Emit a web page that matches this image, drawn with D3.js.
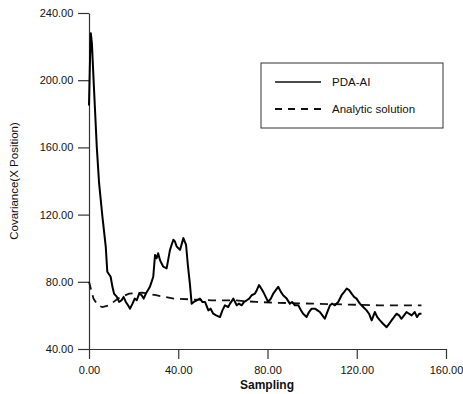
<!DOCTYPE html>
<html>
<head>
<meta charset="utf-8">
<script src="https://cdn.jsdelivr.net/npm/d3@7"></script>
<style>
  html, body { margin: 0; padding: 0; background: #fff; }
  svg { display: block; font-family: "Liberation Sans", Arial, sans-serif; }
</style>
</head>
<body>
<svg width="463" height="394"></svg>
<script>
// PDA-AI (solid) : sampling position / covariance
const pdaX = [0, 0.5, 0.8, 1.3, 2.2, 3.5, 4.5, 6, 7.5, 8.2, 9.7, 10.5, 11.2, 12.5, 13.5, 14.6, 15.5, 16.5, 17.5, 18.4, 19.5,
  20.5, 21.4, 22.5, 23.6, 24.5, 25.5, 27.3, 28.8, 29.6, 30.3, 31, 31.8, 32.5, 33.3, 34.8, 36.3, 37.8, 38.5, 39.3, 40.8,
  42.3, 43.5, 44.3, 45.2, 46, 47, 48.3, 49.7, 50.8, 52, 53.5, 54.5, 55.7, 57, 58.7, 59.8, 60.9, 62.4, 63.2, 64.7,
  66.2, 67.2, 68.4, 69.5, 70.7, 71.8, 72.9, 74.4, 75.2, 76.2, 77.2, 78.1, 79.2, 80.3, 81.5, 82.6, 83.7, 84.8, 86, 87,
  88.6, 90, 91, 92.3, 93.8, 95, 96, 97.5, 98.6, 99.8, 101.3, 102.4, 103.5, 104.6, 105.7, 106.8, 108, 109, 110.2, 111.7,
  113.2, 114.4, 115.5, 116.6, 117.7, 118.8, 119.9, 121.4, 122.9, 124.4, 125.5, 126.7, 128.1, 129.2, 130.4, 131.8, 133.4, 134.5, 135.6, 136.7,
  137.8, 139, 140, 141.2, 142.3, 143.4, 144.6, 146, 147, 148, 149]
const pdaY = [185, 215, 228, 222, 196, 160, 139, 119, 101, 86, 83, 77, 73, 71, 68, 69, 71, 68, 66, 64, 67,
  70, 69, 73, 72, 70, 73, 77, 83, 96, 94, 97, 93, 91, 89, 88, 99, 105, 104, 101, 99,
  106, 102, 90, 79, 67, 68, 69, 70, 68, 68, 63, 64, 61, 60, 59, 63, 66, 65, 67, 70,
  66, 67, 66, 68, 69, 70, 72, 73, 75, 78, 76, 74, 71, 68, 70, 73, 75, 77, 74, 72,
  70, 67, 68, 66, 66, 63, 61, 59, 62, 64, 64, 63, 62, 60, 58, 62, 66, 67, 66, 68,
  72, 74, 76, 75, 73, 71, 70, 67, 65, 63, 61, 57, 62, 59, 57, 55, 53, 55, 57, 59,
  61, 60, 58, 60, 62, 61, 60, 62, 59, 61, 61]

// Analytic solution (dashed)
const anaX = [0, 1, 2, 4, 6, 9, 13, 18, 24, 30, 38, 46, 55, 65, 75, 85, 100, 115, 130, 149]
const anaY = [80, 75, 70, 66, 65, 66, 70, 73, 73.5, 72, 70, 69.5, 69, 69, 68, 67.5, 67, 66.5, 66, 66]

const xTicks = [0, 40, 80, 120, 160]
const yTicks = [40, 80, 120, 160, 200, 240]
const seriesNames = ["PDA-AI", "Analytic solution"]

const svg = d3.select("svg")
const x = d3.scaleLinear().domain([0, 160]).range([89, 446])
const y = d3.scaleLinear().domain([40, 240]).range([349, 13])

// axes
const xAxis = d3.axisBottom(x).tickValues(xTicks).tickFormat(d3.format(".2f")).tickSize(10).tickSizeOuter(0)
const xMinor = d3.axisBottom(x).tickValues([20, 60, 100, 140]).tickFormat("").tickSize(4).tickSizeOuter(0)
const yAxis = d3.axisLeft(y).tickValues(yTicks).tickFormat(d3.format(".2f")).tickSize(11).tickSizeOuter(0)
const yMinor = d3.axisLeft(y).tickValues([60, 100, 140, 180, 220]).tickFormat("").tickSize(4).tickSizeOuter(0)

const gx = svg.append("g").attr("transform", "translate(0,349)")
gx.call(xMinor)
gx.call(xAxis)
const gy = svg.append("g").attr("transform", "translate(89,0)")
gy.call(yMinor)
gy.call(yAxis)

svg.selectAll(".domain").attr("stroke", "#333").attr("stroke-width", 1.2)
svg.selectAll(".tick line").attr("stroke", "#333").attr("stroke-width", 1.2)
svg.selectAll(".tick text").attr("fill", "#111").attr("font-size", 11)
  .attr("font-family", "'Liberation Sans', Arial, sans-serif")
gx.selectAll(".tick text").attr("dy", "1.05em")
gy.selectAll(".tick text").attr("dx", "-0.15em")

// axis titles
svg.append("text").attr("x", 267).attr("y", 389).attr("text-anchor", "middle")
  .attr("font-size", 12).attr("font-weight", "bold").attr("fill", "#111").text("Sampling")
svg.append("text").attr("transform", "translate(18,181) rotate(-90)").attr("text-anchor", "middle")
  .attr("font-size", 11.5).attr("fill", "#111").text("Covariance(X Position)")

// lines
const line = d3.line().x(d => x(d[0])).y(d => y(d[1]))
svg.append("path").datum(anaX.map((v, i) => [v, anaY[i]]))
  .attr("d", line).attr("fill", "none").attr("stroke", "#111")
  .attr("stroke-width", 1.8).attr("stroke-dasharray", "8,6")
svg.append("path").datum(pdaX.map((v, i) => [v, pdaY[i]]))
  .attr("d", line).attr("fill", "none").attr("stroke", "#000")
  .attr("stroke-width", 2).attr("stroke-linejoin", "round")

// legend
const lg = svg.append("g")
lg.append("rect").attr("x", 261).attr("y", 63).attr("width", 182).attr("height", 65)
  .attr("fill", "#fff").attr("stroke", "#333").attr("stroke-width", 1)
seriesNames.forEach((name, i) => {
  const yy = 82 + i * 27
  lg.append("line").attr("x1", 275).attr("x2", 321).attr("y1", yy).attr("y2", yy)
    .attr("stroke", "#111").attr("stroke-width", i === 0 ? 1.5 : 1.8)
    .attr("stroke-dasharray", i === 0 ? null : "7,6")
  lg.append("text").attr("x", 332).attr("y", yy + 4).attr("font-size", 11.5)
    .attr("fill", "#111").text(name)
})
</script>
</body>
</html>
